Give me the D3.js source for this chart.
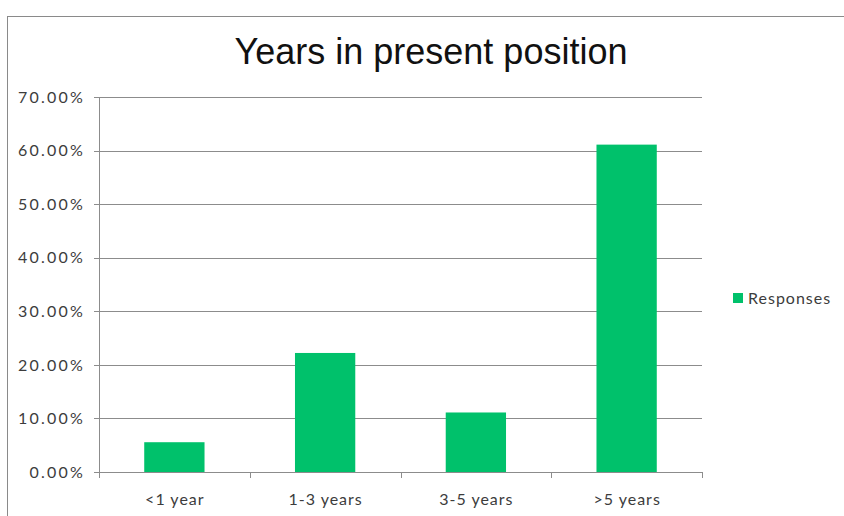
<!DOCTYPE html>
<html>
<head>
<meta charset="utf-8">
<script src="https://cdn.jsdelivr.net/npm/d3@7"></script>
<style>
  body { margin: 0; background: #fff; }
  svg { display: block; }
</style>
</head>
<body>
<div id="chart"></div>
<script>
// data
var categories = ["<1 year", "1-3 years", "3-5 years", ">5 years"];
var responses = [0.0556, 0.2222, 0.1111, 0.6111];
var yTicks = [0, 0.1, 0.2, 0.3, 0.4, 0.5, 0.6, 0.7];
var seriesName = "Responses";

var width = 844, height = 516;
var plotLeft = 99, plotRight = 702, plotTop = 97, plotBottom = 472;
var green = "#00c16b";
var labelColor = "#3c3c3c";

var svg = d3.select("#chart").append("svg")
    .attr("width", width)
    .attr("height", height);

// outer frame
svg.append("rect")
    .attr("x", 7.5).attr("y", 16.5)
    .attr("width", 860).attr("height", 520)
    .attr("fill", "#fff")
    .attr("stroke", "#8a8a8a")
    .attr("stroke-width", 1);

// title
svg.append("text")
    .attr("x", 431).attr("y", 64)
    .attr("text-anchor", "middle")
    .style("font-family", "Liberation Sans, Arial, sans-serif")
    .style("font-size", "36px")
    .attr("fill", "#111")
    .text("Years in present position");

var x = d3.scaleBand()
    .domain(categories)
    .range([plotLeft, plotRight])
    .paddingInner(0.6)
    .paddingOuter(0.3);

var y = d3.scaleLinear()
    .domain([0, 0.7])
    .range([plotBottom, plotTop]);

// gridlines
svg.append("g")
    .selectAll("line")
    .data(yTicks)
    .enter().append("line")
    .attr("x1", plotLeft - 5).attr("x2", plotRight)
    .attr("y1", function(d) { return Math.round(y(d)) + 0.5; })
    .attr("y2", function(d) { return Math.round(y(d)) + 0.5; })
    .attr("stroke", "#8c8c8c");

// y axis line
svg.append("line")
    .attr("x1", plotLeft + 0.5).attr("x2", plotLeft + 0.5)
    .attr("y1", plotTop).attr("y2", plotBottom + 1)
    .attr("stroke", "#8c8c8c");

// y labels
svg.append("g")
    .selectAll("text")
    .data(yTicks)
    .enter().append("text")
    .attr("x", plotLeft - 14)
    .attr("y", function(d) { return y(d); })
    .attr("dy", "0.36em")
    .attr("text-anchor", "end")
    .style("font-family", "Lato, sans-serif")
    .style("font-size", "16px")
    .style("letter-spacing", "2.2px")
    .attr("fill", labelColor)
    .text(function(d) { return d3.format(".2%")(d); });

// bars
svg.append("g")
    .selectAll("rect")
    .data(responses)
    .enter().append("rect")
    .attr("x", function(d, i) { return x(categories[i]); })
    .attr("y", function(d) { return y(d); })
    .attr("width", x.bandwidth())
    .attr("height", function(d) { return plotBottom - y(d); })
    .attr("fill", green);

// x axis line + boundary ticks
var bounds = d3.range(categories.length + 1).map(function(i) {
    return plotLeft + i * (plotRight - plotLeft) / categories.length;
});
svg.append("line")
    .attr("x1", plotLeft).attr("x2", plotRight)
    .attr("y1", plotBottom + 0.5).attr("y2", plotBottom + 0.5)
    .attr("stroke", "#8c8c8c");
svg.append("g")
    .selectAll("line")
    .data(bounds)
    .enter().append("line")
    .attr("x1", function(d) { return Math.round(d) + 0.5; })
    .attr("x2", function(d) { return Math.round(d) + 0.5; })
    .attr("y1", plotBottom).attr("y2", plotBottom + 6)
    .attr("stroke", "#8c8c8c");

// x labels
svg.append("g")
    .selectAll("text")
    .data(categories)
    .enter().append("text")
    .attr("x", function(d) { return x(d) + x.bandwidth() / 2 + 0.5; })
    .attr("y", 505)
    .attr("text-anchor", "middle")
    .style("font-family", "Lato, sans-serif")
    .style("font-size", "16px")
    .style("letter-spacing", "1px")
    .attr("fill", labelColor)
    .text(function(d) { return d; });

// legend
var legend = svg.append("g").attr("transform", "translate(733, 293)");
legend.append("rect")
    .attr("width", 10).attr("height", 10)
    .attr("fill", green);
legend.append("text")
    .attr("x", 15).attr("y", 11)
    .style("font-family", "Lato, sans-serif")
    .style("font-size", "16px")
    .style("letter-spacing", "1px")
    .attr("fill", labelColor)
    .text(seriesName);
</script>
</body>
</html>
